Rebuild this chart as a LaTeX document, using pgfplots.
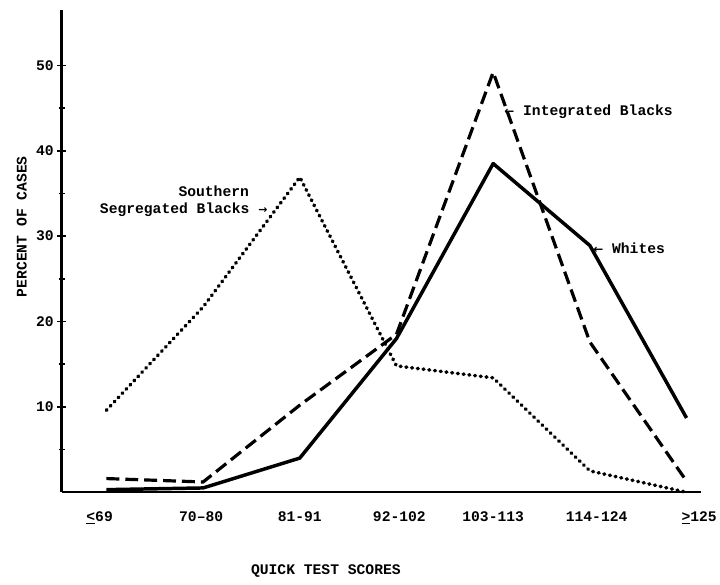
\documentclass[border=0pt]{standalone}
\usepackage{fontspec}
\setmainfont{Liberation Mono}
\newfontfamily\symfont{DejaVu Sans}
\usepackage{pgfplots}
\pgfplotsset{compat=1.18}
\pgfplotstableread{
x y
0 0.3
1 0.5
2 4.0
3 18.0
4 38.5
5 28.9
6 8.7
}\whites
\pgfplotstableread{
x y
0 1.6
1 1.2
2 10.2
3 18.5
4 49.2
5 17.6
6 1.3
}\integrated
\pgfplotstableread{
x y
0 9.6
1 21.7
2 36.9
3 14.8
4 13.4
5 2.5
6 0.0
}\southern
\newcommand\tw{\fontsize{14.8}{17}\selectfont\bfseries}
\begin{document}
\begin{tikzpicture}
\path (-62bp,-93bp) rectangle (658bp,495bp);
\begin{axis}[
  at={(0,0)}, anchor=south west, scale only axis,
  width=643bp, height=485bp,
  xmin=-0.463, xmax=6.15, ymin=0, ymax=56.5,
  axis x line=bottom, axis y line=left,
  x axis line style={line width=2bp,-},
  y axis line style={line width=3bp,-},
  xtick={-0.07,0.98,2,3.03,4,5.07,6.13},
  xticklabels={\underline{<}69,70--80,81-91,92-102,103-113,114-124,\underline{>}125},
  xtick style={draw=none},
  xticklabel style={yshift=-12bp},
  ytick={10,20,30,40,50},
  minor ytick={5,15,25,35,45},
  tick align=center,
  major tick length=9bp, minor tick length=6bp,
  ytick style={line width=1.5bp, black},
  minor tick style={line width=1.5bp, black},
  ticklabel style={font=\tw},
  /pgf/number format/assume math mode=true,
  clip=false,
]
\addplot[black, line width=3.5bp, line join=round] table[x=x,y=y] {\whites};
\addplot[black, line width=3.2bp, dash pattern=on 13bp off 6bp] table[x=x,y=y] {\integrated};
\addplot[black, line width=3.6bp, line cap=round, dash pattern=on 0.8bp off 5bp] table[x=x,y=y] {\southern};
\node[font=\tw] at (axis cs:1.11,35.2) {Southern};
\node[anchor=west, font=\tw] at (axis cs:-0.103,33.1) {Segregated Blacks {\symfont\fontsize{11}{12}\selectfont →}};
\node[anchor=west, font=\tw] at (axis cs:4.08,44.6) {{\symfont\fontsize{12}{12}\selectfont ←} Integrated Blacks};
\node[anchor=west, font=\tw] at (axis cs:5.0,28.6) {{\symfont\fontsize{12}{12}\selectfont ←} Whites};
\node[rotate=90, font=\tw] at (axis cs:-0.874,31.1) {PERCENT OF CASES};
\node[font=\tw] at (axis cs:2.27,-9.28) {QUICK TEST SCORES};
\end{axis}
\end{tikzpicture}
\end{document}
